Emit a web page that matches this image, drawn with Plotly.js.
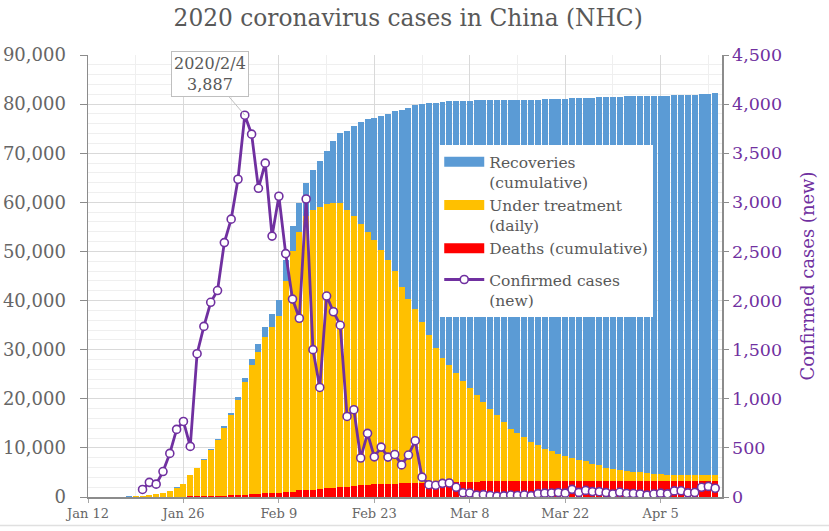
<!DOCTYPE html>
<html>
<head>
<meta charset="utf-8">
<script src="https://cdn.plot.ly/plotly-3.0.1.min.js"></script>
<style>html,body{margin:0;padding:0;background:#fff;}#chart{width:829px;height:531px;}</style>
</head>
<body>
<div id="chart"></div>
<script>
// Dates of the bars (one per day, 2020-01-12 .. 2020-04-13)
const barDates = [
'2020-01-12','2020-01-13','2020-01-14','2020-01-15','2020-01-16','2020-01-17','2020-01-18','2020-01-19',
'2020-01-20','2020-01-21','2020-01-22','2020-01-23','2020-01-24','2020-01-25','2020-01-26','2020-01-27',
'2020-01-28','2020-01-29','2020-01-30','2020-01-31','2020-02-01','2020-02-02','2020-02-03','2020-02-04',
'2020-02-05','2020-02-06','2020-02-07','2020-02-08','2020-02-09','2020-02-10','2020-02-11','2020-02-12',
'2020-02-13','2020-02-14','2020-02-15','2020-02-16','2020-02-17','2020-02-18','2020-02-19','2020-02-20',
'2020-02-21','2020-02-22','2020-02-23','2020-02-24','2020-02-25','2020-02-26','2020-02-27','2020-02-28',
'2020-02-29','2020-03-01','2020-03-02','2020-03-03','2020-03-04','2020-03-05','2020-03-06','2020-03-07',
'2020-03-08','2020-03-09','2020-03-10','2020-03-11','2020-03-12','2020-03-13','2020-03-14','2020-03-15',
'2020-03-16','2020-03-17','2020-03-18','2020-03-19','2020-03-20','2020-03-21','2020-03-22','2020-03-23',
'2020-03-24','2020-03-25','2020-03-26','2020-03-27','2020-03-28','2020-03-29','2020-03-30','2020-03-31',
'2020-04-01','2020-04-02','2020-04-03','2020-04-04','2020-04-05','2020-04-06','2020-04-07','2020-04-08',
'2020-04-09','2020-04-10','2020-04-11','2020-04-12','2020-04-13'];

// Deaths (cumulative)
const deaths = [
1,1,1,2,2,2,3,3,
6,9,17,25,41,56,80,106,
132,170,213,259,304,361,425,490,
563,636,722,811,908,1016,1113,1367,
1380,1523,1665,1770,1868,2004,2118,2236,
2345,2442,2592,2663,2715,2744,2788,2835,
2870,2912,2943,2981,3012,3042,3070,3097,
3119,3136,3158,3169,3176,3189,3199,3213,
3226,3237,3245,3248,3255,3261,3270,3277,
3281,3287,3292,3295,3300,3304,3305,3312,
3318,3322,3326,3329,3331,3331,3333,3335,
3336,3339,3339,3341,3341];

// Under treatment (daily)
const treatment = [
38,33,33,27,28,41,94,170,
260,403,526,771,1208,1870,2613,4349,
5739,7417,9308,11289,13748,16369,19381,22942,
26302,28985,31774,33738,35982,42974,49037,52526,
55748,56873,57416,57934,58016,57805,56303,54965,
53284,51606,49824,47672,45604,43258,39919,37414,
35329,32652,30004,27433,25352,23784,22177,20533,
19016,17721,16145,14831,13526,12094,10734,9898,
8976,8056,7263,6569,6013,5549,5120,4735,
4287,3947,3460,3128,2691,2376,2161,2004,
1863,1727,1562,1376,1299,1242,1190,1160,
1116,1089,1138,1156,1170];

// Recoveries (cumulative)
const recoveries = [
2,7,7,12,15,19,24,25,
25,28,28,34,38,49,51,60,
103,124,171,243,328,475,632,892,
1153,1540,2050,2649,3281,4270,5030,5911,
6723,8096,9419,10844,12552,14376,16155,18264,
20659,22888,24734,27323,29745,32495,36117,39002,
41625,44462,47204,49856,52045,53726,55404,57065,
58600,59897,61475,62793,64111,65541,66911,67749,
68679,69601,70420,71150,71740,72244,72703,73159,
73650,74051,74588,74971,75448,75790,76052,76238,
76408,76571,76751,76964,77078,77167,77279,77370,
77455,77525,77575,77663,77738];

// Confirmed cases (new), 2020-01-20 .. 2020-04-13
const lineDates = barDates.slice(8);
const newCases = [
77,149,131,259,444,688,769,515,
1459,1737,1982,2102,2590,2829,3235,3887,
3694,3143,3399,2656,3062,2478,2015,1820,
3034,1500,1115,2046,1886,1749,820,889,
397,648,409,508,406,433,327,427,
573,202,125,119,139,143,99,44,
40,19,24,15,8,11,20,16,
21,13,34,39,41,46,39,78,
47,67,55,54,45,31,48,36,
35,31,19,30,39,32,62,63,
42,46,99,108,89];

const FONT = 'DejaVu Serif, serif';
const GREY = '#666666';
const PURPLE = '#7030A0';
const BLUE = '#5B9BD5';
const YELLOW = '#FFC000';
const RED = '#FF0000';

const traces = [
  {type:'bar', x:barDates, y:deaths, name:'Deaths (cumulative)', marker:{color:RED}, showlegend:false},
  {type:'bar', x:barDates, y:treatment, name:'Under treatment (daily)', marker:{color:YELLOW}, showlegend:false},
  {type:'bar', x:barDates, y:recoveries, name:'Recoveries (cumulative)', marker:{color:BLUE}, showlegend:false},
  // legend entries (wide swatches)
  {type:'scatter', mode:'lines', x:[null], y:[null], name:'Recoveries<br>(cumulative)', line:{color:BLUE, width:10}, legendrank:1, legendgroup:'a'},
  {type:'scatter', mode:'lines', x:[null], y:[null], name:'Under treatment<br>(daily)', line:{color:YELLOW, width:10}, legendrank:2, legendgroup:'a'},
  {type:'scatter', mode:'lines', x:[null], y:[null], name:'Deaths (cumulative)', line:{color:RED, width:10}, legendrank:3, legendgroup:'a'},
  {type:'scatter', mode:'lines+markers', x:lineDates, y:newCases, yaxis:'y2', name:'Confirmed cases<br>(new)',
   line:{color:PURPLE, width:2.8}, marker:{symbol:'circle', size:8, color:'#ffffff', line:{color:PURPLE, width:1.6}},
   legendrank:4, legendgroup:'b'}
];

const DAY = 86400000;
const layout = {
  width:829, height:531,
  margin:{l:88, r:107, t:55, b:34},
  paper_bgcolor:'#ffffff', plot_bgcolor:'#ffffff',
  font:{family:FONT, color:GREY},
  barmode:'stack', bargap:0.12,
  title:{text:'2020 coronavirus cases in China (NHC)', font:{family:FONT, size:23.3, color:'#595959'},
         x:0.505, xref:'paper', xanchor:'center', y:0.966, yref:'container', yanchor:'middle'},
  xaxis:{type:'date', range:['2020-01-12','2020-04-14'], tick0:'2020-01-12', dtick:14*DAY,
         tickformat:'%b %-d', tickfont:{family:FONT, size:13, color:GREY},
         showgrid:true, gridcolor:'#d9d9d9', gridwidth:1,
         minor:{dtick:7*DAY, showgrid:true, gridcolor:'#efefef', ticks:''},
         ticks:'outside', ticklen:4, tickcolor:'#a6a6a6', showline:true, linecolor:'#8c8c8c', linewidth:1.5,
         zeroline:false, fixedrange:true},
  yaxis:{range:[0,90000], dtick:10000, tickformat:',d', tickfont:{family:FONT, size:18, color:GREY},
         ticklabelstandoff:10,
         showgrid:true, gridcolor:'#d9d9d9', gridwidth:1,
         minor:{dtick:2000, showgrid:true, gridcolor:'#efefef', ticks:''},
         ticks:'outside', ticklen:7, tickcolor:'#8c8c8c', showline:true, linecolor:'#8c8c8c', linewidth:1.5,
         zeroline:false, fixedrange:true},
  yaxis2:{overlaying:'y', side:'right', range:[0,4500], dtick:500, tickformat:',d',
          tickfont:{family:FONT, size:17.5, color:PURPLE},
          title:{text:'Confirmed cases (new)', font:{family:FONT, size:18, color:PURPLE}, standoff:20},
          showgrid:false, zeroline:false, ticks:'outside', ticklen:5, tickcolor:'#8c8c8c',
          showline:true, linecolor:'#8c8c8c', linewidth:1.5, fixedrange:true},
  legend:{x:0.554, y:0.796, xanchor:'left', yanchor:'top', bgcolor:'#ffffff', borderwidth:0,
          font:{family:FONT, size:15.5, color:'#595959'}, traceorder:'grouped', tracegroupgap:8,
          itemwidth:40, itemsizing:'trace', valign:'top'},
  annotations:[{x:'2020-02-04', y:3887, xref:'x', yref:'y2', text:'2020/2/4<br>3,887',
                showarrow:true, arrowhead:0, arrowwidth:1, arrowcolor:'#bfbfbf', ax:-35, ay:-41,
                bgcolor:'#ffffff', bordercolor:'#bfbfbf', borderwidth:1, borderpad:2,
                font:{family:FONT, size:16, color:'#595959'}}],
  shapes:[{type:'line', xref:'paper', yref:'paper', x0:-0.14, x1:1.17, y0:-0.0645, y1:-0.0645,
           line:{color:'#e0e0e0', width:1.5}}],
  hovermode:false
};

Plotly.newPlot('chart', traces, layout, {displayModeBar:false, staticPlot:true});
</script>
</body>
</html>
